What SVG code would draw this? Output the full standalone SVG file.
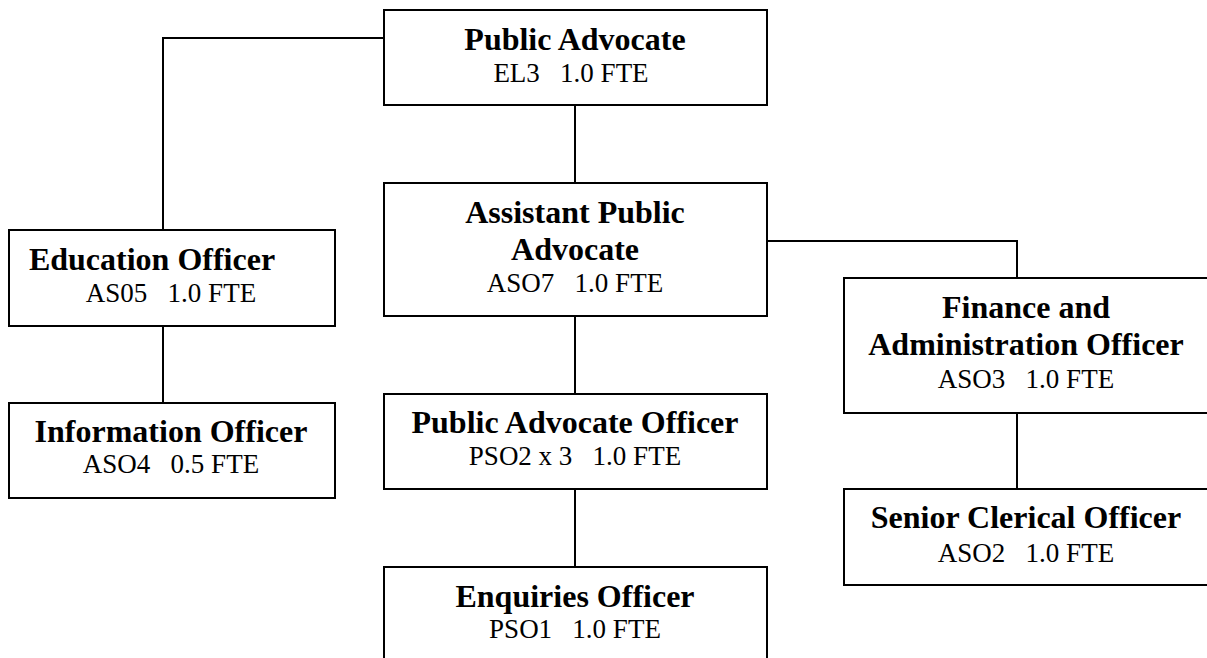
<svg xmlns="http://www.w3.org/2000/svg" width="1207" height="658" viewBox="0 0 1207 658">
<style>
.box{fill:#fff;stroke:#000;stroke-width:2}
.ln{fill:none;stroke:#000;stroke-width:2}
text{font-family:"Liberation Serif","Times New Roman",serif;fill:#000;white-space:pre}
.t{font-size:32px;font-weight:bold;text-anchor:middle}
.s{font-size:27px;text-anchor:middle}
</style>
<rect width="1207" height="658" fill="#fff"/>
<g id="connectors">
<path class="ln" d="M384,38 H163 V230"/>
<path class="ln" d="M575,105 V183"/>
<path class="ln" d="M163,326 V403"/>
<path class="ln" d="M575,316 V394"/>
<path class="ln" d="M575,489 V567"/>
<path class="ln" d="M767,241 H1017 V278"/>
<path class="ln" d="M1017,413 V489"/>
</g>
<g id="public-advocate">
<rect class="box" x="384" y="10" width="383" height="95"/>
<text class="t" x="575" y="50">Public Advocate</text>
<text class="s" x="571" y="82">EL3   1.0 FTE</text>
</g>
<g id="education-officer">
<rect class="box" x="9" y="230" width="326" height="96"/>
<text class="t" x="152" y="270">Education Officer</text>
<text class="s" x="171" y="302">AS05   1.0 FTE</text>
</g>
<g id="information-officer">
<rect class="box" x="9" y="403" width="326" height="95"/>
<text class="t" x="171" y="442">Information Officer</text>
<text class="s" x="171" y="473">ASO4   0.5 FTE</text>
</g>
<g id="assistant-public-advocate">
<rect class="box" x="384" y="183" width="383" height="133"/>
<text class="t" x="575" y="223">Assistant Public</text>
<text class="t" x="575" y="260">Advocate</text>
<text class="s" x="575" y="292">ASO7   1.0 FTE</text>
</g>
<g id="public-advocate-officer">
<rect class="box" x="384" y="394" width="383" height="95"/>
<text class="t" x="575" y="433">Public Advocate Officer</text>
<text class="s" x="575" y="465">PSO2 x 3   1.0 FTE</text>
</g>
<g id="enquiries-officer">
<rect class="box" x="384" y="567" width="383" height="120"/>
<text class="t" x="575" y="607">Enquiries Officer</text>
<text class="s" x="575" y="638">PSO1   1.0 FTE</text>
</g>
<g id="finance-admin-officer">
<rect class="box" x="844" y="278" width="364" height="135"/>
<text class="t" x="1026" y="318">Finance and</text>
<text class="t" x="1026" y="355">Administration Officer</text>
<text class="s" x="1026" y="388">ASO3   1.0 FTE</text>
</g>
<g id="senior-clerical-officer">
<rect class="box" x="844" y="489" width="364" height="96"/>
<text class="t" x="1026" y="528">Senior Clerical Officer</text>
<text class="s" x="1026" y="562">ASO2   1.0 FTE</text>
</g>
</svg>
